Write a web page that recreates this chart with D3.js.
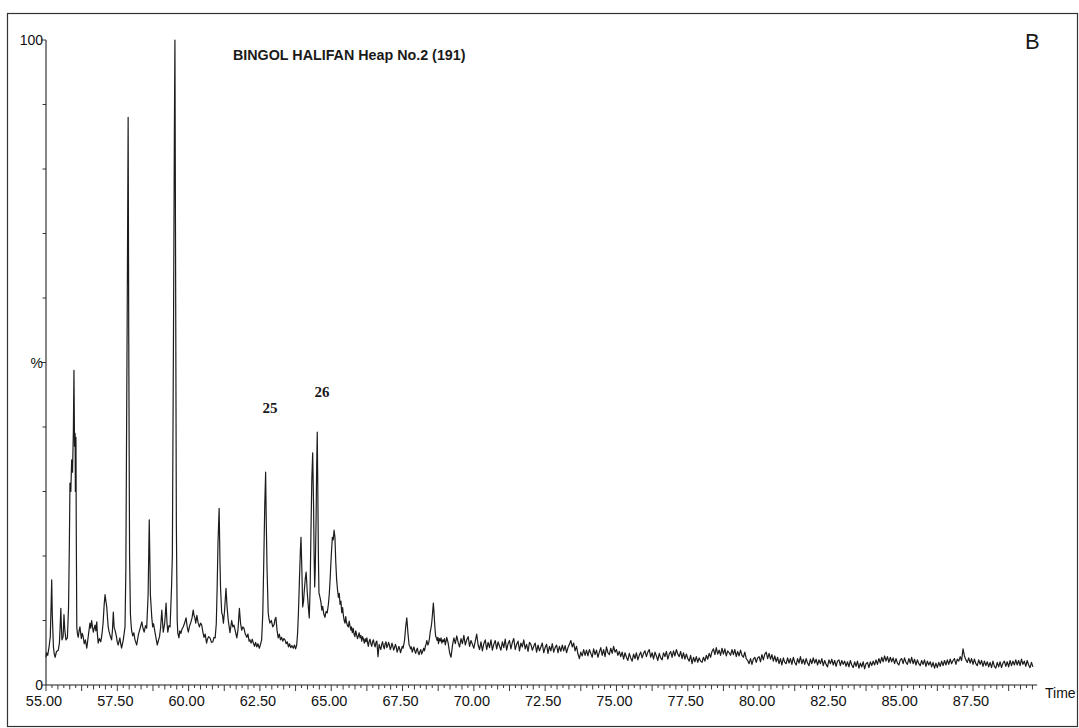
<!DOCTYPE html>
<html>
<head>
<meta charset="utf-8">
<script src="https://cdn.jsdelivr.net/npm/d3@7"></script>
<style>
  body { margin: 0; background: #fff; }
  svg { display: block; }
</style>
</head>
<body>
<svg id="chart" width="1079" height="728"></svg>
<script>
// ---- Chart text ----
const chartTitle = "BINGOL HALIFAN Heap No.2 (191)";
const panelLetter = "B";
const xAxisName = "Time";

// ---- Axis ticks ----
const xLabelValues = [55.0, 57.5, 60.0, 62.5, 65.0, 67.5, 70.0, 72.5, 75.0, 77.5, 80.0, 82.5, 85.0, 87.5];
const yLabelValues = [100, 50, 0];
const yLabelTexts = ["100", "%", "0"];
const yMinorTicks = [0, 10, 20, 30, 40, 50, 60, 70, 80, 90, 100];

// ---- Numbered peaks ----
const peakNames = ["25", "26"];
const peakNameTimes = [62.85, 64.68];
const peakNameLevels = [42.2, 44.7];

// ---- Ion trace, 55–69 min: [time (min), intensity (%)] ----
const traceEarly = [
  [55.00,4.3],[55.02,5.0],[55.06,4.6],[55.11,6.0],[55.15,7.5],[55.18,12.5],[55.20,16.3],[55.22,11.0],
  [55.26,5.9],[55.29,4.8],[55.32,4.3],[55.37,5.2],[55.43,5.4],[55.47,6.5],[55.50,9.5],[55.52,11.9],
  [55.54,9.0],[55.56,7.0],[55.60,7.5],[55.63,10.9],[55.66,8.5],[55.70,7.0],[55.75,7.3],[55.79,12.0],
  [55.82,22.0],[55.84,31.3],[55.87,30.0],[55.90,34.9],[55.93,33.0],[55.96,39.5],[55.98,48.8],[56.00,37.0],
  [56.02,39.0],[56.03,30.0],[56.05,38.4],[56.06,25.0],[56.08,9.0],[56.10,8.0],[56.13,7.4],[56.16,8.4],
  [56.19,9.0],[56.24,7.2],[56.27,8.0],[56.30,7.6],[56.34,6.4],[56.38,7.0],[56.43,5.7],[56.48,7.5],
  [56.54,9.6],[56.57,8.8],[56.60,10.0],[56.63,9.0],[56.66,8.2],[56.72,9.3],[56.75,8.4],[56.78,9.8],
  [56.80,8.0],[56.83,6.5],[56.87,7.2],[56.92,6.7],[56.96,7.8],[57.00,9.5],[57.04,12.5],[57.07,14.0],
  [57.10,13.0],[57.13,12.1],[57.18,9.0],[57.21,8.3],[57.24,7.8],[57.30,7.0],[57.33,8.5],[57.36,11.3],
  [57.39,8.9],[57.42,8.5],[57.47,7.5],[57.50,6.6],[57.53,6.2],[57.59,7.3],[57.62,6.4],[57.65,5.7],
  [57.71,7.0],[57.77,9.0],[57.80,18.0],[57.82,35.0],[57.85,60.0],[57.88,88.0],[57.90,55.0],[57.93,20.0],
  [57.96,11.0],[57.98,9.6],[58.00,8.5],[58.04,7.6],[58.08,8.1],[58.12,7.0],[58.18,6.2],[58.24,7.8],
  [58.30,8.8],[58.36,9.8],[58.40,8.8],[58.44,8.2],[58.49,9.2],[58.53,8.8],[58.58,14.0],[58.62,25.6],
  [58.66,14.0],[58.71,10.4],[58.74,9.0],[58.77,9.5],[58.82,8.2],[58.86,7.2],[58.90,6.2],[58.94,6.9],
  [58.98,7.5],[59.02,9.0],[59.06,11.6],[59.09,9.5],[59.11,8.2],[59.16,9.5],[59.21,12.7],[59.24,9.8],
  [59.27,8.2],[59.31,9.2],[59.35,9.0],[59.40,15.0],[59.43,20.0],[59.47,55.0],[59.50,85.0],[59.52,100.0],
  [59.54,70.0],[59.57,25.0],[59.60,10.0],[59.62,8.1],[59.66,7.3],[59.69,8.4],[59.73,8.0],[59.77,8.7],
  [59.81,9.0],[59.86,9.6],[59.91,10.4],[59.95,9.0],[59.99,8.2],[60.03,9.1],[60.07,9.6],[60.12,10.4],
  [60.16,11.6],[60.19,10.8],[60.22,10.4],[60.25,9.6],[60.29,10.8],[60.33,9.7],[60.38,9.0],[60.42,9.6],
  [60.46,9.3],[60.50,8.2],[60.54,7.4],[60.58,7.9],[60.63,6.5],[60.66,7.1],[60.70,7.5],[60.75,7.3],
  [60.80,6.6],[60.85,6.7],[60.89,7.4],[60.93,7.3],[60.97,9.5],[61.00,15.0],[61.03,22.0],[61.07,27.4],
  [61.10,19.0],[61.12,15.0],[61.16,11.2],[61.19,10.8],[61.22,9.6],[61.26,11.5],[61.31,15.0],[61.35,12.0],
  [61.39,10.0],[61.42,9.1],[61.45,8.1],[61.51,10.0],[61.55,9.0],[61.59,9.3],[61.63,8.5],[61.69,7.3],
  [61.73,8.5],[61.78,11.9],[61.82,9.6],[61.86,8.5],[61.90,9.0],[61.94,8.8],[61.98,8.0],[62.04,7.4],
  [62.08,7.9],[62.12,6.8],[62.15,7.0],[62.19,6.5],[62.23,7.1],[62.27,6.5],[62.31,6.0],[62.35,6.6],
  [62.39,5.9],[62.43,6.4],[62.48,5.7],[62.52,6.3],[62.56,7.0],[62.60,11.0],[62.63,18.0],[62.67,28.0],
  [62.70,33.0],[62.72,26.0],[62.75,18.0],[62.79,11.2],[62.82,10.2],[62.85,9.6],[62.90,10.0],[62.95,9.0],
  [63.00,9.4],[63.03,10.2],[63.06,10.5],[63.10,8.5],[63.14,7.3],[63.18,7.9],[63.22,7.0],[63.26,7.4],
  [63.30,6.8],[63.34,7.2],[63.38,7.0],[63.42,6.4],[63.46,6.7],[63.50,5.9],[63.54,6.4],[63.58,5.8],
  [63.62,6.1],[63.67,5.7],[63.71,6.2],[63.75,5.6],[63.79,6.2],[63.82,8.0],[63.85,11.2],[63.89,17.0],
  [63.92,21.0],[63.94,22.9],[63.97,18.0],[64.00,12.1],[64.03,13.0],[64.05,14.3],[64.09,16.5],[64.12,17.5],
  [64.14,16.0],[64.16,14.3],[64.20,12.0],[64.23,10.4],[64.26,15.0],[64.29,24.0],[64.32,32.0],[64.35,36.0],
  [64.38,28.0],[64.40,20.0],[64.42,15.2],[64.44,18.0],[64.47,26.0],[64.49,34.0],[64.51,39.2],[64.53,30.0],
  [64.55,20.0],[64.57,14.3],[64.61,13.5],[64.64,12.8],[64.67,11.6],[64.70,12.2],[64.74,11.0],[64.78,10.5],
  [64.82,11.4],[64.86,11.2],[64.90,12.5],[64.93,14.0],[64.96,16.3],[65.00,20.0],[65.04,22.9],[65.07,22.5],
  [65.10,24.0],[65.13,22.9],[65.16,19.0],[65.19,16.3],[65.22,14.8],[65.25,13.6],[65.28,14.2],[65.31,12.5],
  [65.34,13.0],[65.37,11.2],[65.40,12.0],[65.42,11.0],[65.45,10.1],[65.48,9.6],[65.51,10.6],[65.53,9.8],
  [65.57,9.2],[65.60,9.0],[65.63,9.9],[65.66,9.1],[65.69,8.5],[65.71,9.0],[65.74,8.1],[65.77,8.8],
  [65.80,7.9],[65.83,7.5],[65.86,8.4],[65.89,7.8],[65.92,7.2],[65.95,7.6],[65.98,8.1],[66.01,7.3],
  [66.04,7.7],[66.07,6.8],[66.10,7.5],[66.13,7.1],[66.16,6.5],[66.19,7.2],[66.22,6.7],[66.25,7.3],
  [66.28,6.4],[66.30,6.0],[66.33,6.8],[66.36,7.1],[66.39,6.4],[66.42,6.0],[66.45,6.7],[66.48,7.0],
  [66.51,6.3],[66.54,5.9],[66.57,6.6],[66.60,6.8],[66.62,5.6],[66.64,4.4],[66.66,5.4],[66.68,6.3],
  [66.71,5.8],[66.74,5.5],[66.77,6.3],[66.80,6.7],[66.83,6.0],[66.86,5.6],[66.89,6.4],[66.92,6.7],
  [66.95,5.8],[66.98,6.1],[67.01,6.6],[67.04,6.2],[67.07,5.5],[67.10,5.9],[67.13,6.5],[67.16,6.0],
  [67.19,5.4],[67.22,5.8],[67.25,6.3],[67.28,5.9],[67.31,5.1],[67.34,5.5],[67.37,6.0],[67.40,5.6],
  [67.43,5.0],[67.46,5.5],[67.49,6.0],[67.52,5.7],[67.55,6.4],[67.57,6.9],[67.61,9.0],[67.65,10.4],
  [67.69,8.0],[67.73,6.2],[67.76,6.0],[67.78,5.6],[67.81,5.9],[67.84,5.1],[67.87,5.5],[67.90,5.9],
  [67.93,5.3],[67.96,4.9],[67.99,5.4],[68.02,5.7],[68.05,5.0],[68.08,4.7],[68.11,5.2],[68.14,5.5],
  [68.17,4.8],[68.20,5.1],[68.24,5.7],[68.27,5.3],[68.30,6.0],[68.33,6.4],[68.35,6.9],[68.39,6.2],
  [68.42,6.6],[68.45,7.4],[68.47,8.2],[68.50,8.9],[68.52,9.5],[68.55,11.0],[68.58,12.7],[68.60,11.5],
  [68.62,10.0],[68.64,8.6],[68.66,7.6],[68.69,7.3],[68.71,6.9],[68.74,7.4],[68.76,6.4],[68.79,7.2],
  [68.82,6.8],[68.85,7.3],[68.88,6.5],[68.91,7.0],[68.94,6.7],[68.97,7.2]
];

// ---- Ion trace, 69.00 min onward, one reading per 0.05 min (intensity %) ----
const tailStartTime = 69.0;
const tailStepTime = 0.05;
const traceTail = [
  6.2,7.4,6.5,5.0,4.3,6.1,7.3,6.4,7.6,6.6,5.9,7.2,6.4,7.7,6.2,7.0,7.5,6.0,6.9,6.3,
  5.7,6.8,7.9,6.2,5.5,6.7,5.3,6.4,7.0,5.5,6.6,5.8,7.0,5.4,6.3,6.9,5.6,6.7,6.0,5.4,
  6.7,5.8,7.1,5.4,6.4,6.9,5.6,6.6,7.2,5.5,6.3,6.8,5.3,6.5,5.9,7.0,5.6,6.3,5.2,6.6,
  6.3,5.4,6.0,6.5,5.1,6.2,5.3,5.9,6.5,5.0,5.8,6.3,4.9,6.0,5.3,6.4,5.1,5.8,6.2,5.0,
  6.0,5.2,6.2,5.3,6.1,5.0,5.8,6.3,6.9,5.9,6.5,5.3,6.0,4.8,4.1,5.1,4.5,5.5,4.6,5.4,
  4.5,5.5,4.9,4.3,5.6,4.7,5.4,4.3,5.1,5.8,4.6,5.5,4.4,5.9,5.0,4.7,5.7,4.9,6.0,5.1,
  5.5,4.6,5.2,4.4,5.1,4.0,5.0,4.3,3.8,4.9,4.2,3.7,4.8,4.1,5.0,3.9,4.6,5.1,4.2,4.9,
  5.3,4.4,5.1,5.5,4.3,5.0,4.0,5.1,4.5,3.8,4.9,4.2,3.9,5.0,4.4,5.2,4.0,4.8,5.2,4.3,
  5.3,4.5,5.5,4.8,4.4,5.2,4.1,5.0,4.0,4.8,4.1,3.7,4.6,3.3,4.3,3.6,4.4,3.5,4.2,3.7,
  3.5,4.3,3.7,4.6,4.0,4.9,4.3,5.2,5.6,4.7,5.8,4.8,5.4,4.6,5.7,4.8,5.6,4.5,5.3,5.0,
  4.6,5.5,4.7,5.5,4.4,5.2,4.5,5.4,4.6,4.3,5.1,4.1,3.8,3.3,4.1,3.2,4.0,4.3,3.5,4.2,
  4.4,3.6,4.7,3.9,4.8,5.1,4.1,4.9,4.0,4.7,3.7,4.5,3.6,4.3,3.3,4.1,3.1,4.2,3.5,3.3,
  4.2,3.4,4.1,3.2,4.3,3.5,3.1,4.1,3.4,4.4,3.3,4.0,3.2,4.1,3.4,3.0,4.0,3.3,4.2,3.4,
  4.0,3.1,3.9,3.3,4.1,3.0,3.8,3.2,2.8,3.9,3.3,4.0,3.1,3.8,2.9,3.7,3.9,3.0,3.8,3.2,
  3.7,2.9,3.6,2.8,3.8,3.1,2.7,3.6,2.9,3.7,2.6,3.4,2.8,3.6,2.5,3.3,3.5,2.7,3.6,3.0,
  3.7,3.1,3.9,3.2,4.1,3.4,4.3,3.6,4.5,3.7,4.4,3.5,4.3,3.6,4.2,3.3,4.1,3.4,3.1,3.9,
  4.1,3.3,4.2,3.5,3.2,4.1,3.4,4.3,3.3,4.0,3.1,3.9,3.3,3.0,3.8,3.2,3.9,2.9,3.7,3.1,
  3.6,2.8,3.5,2.6,3.4,2.7,3.5,2.9,3.7,3.0,3.8,3.1,3.9,3.2,4.0,3.3,3.8,4.1,3.2,4.0,
  3.7,4.4,3.8,5.6,4.5,3.9,3.5,4.2,3.4,4.1,3.2,4.0,3.3,3.0,3.9,3.2,3.8,2.9,3.7,3.0,
  3.6,2.8,3.5,2.7,3.7,2.9,2.6,3.5,2.8,3.6,2.7,3.4,3.7,2.9,3.6,2.8,3.8,3.0,3.7,3.1,
  3.9,3.1,3.8,3.0,4.0,3.2,3.7,2.9,3.8,3.1,2.7,3.5,2.8
];

// ---- Drawing ----
const W = 1079, H = 728;
const svg = d3.select("#chart");
const ink = "#222";

const x = d3.scaleLinear().domain([55, 87.5]).range([46, 973]);
const xEnd = 89.75;
const y = d3.scaleLinear().domain([0, 100]).range([685, 40]);

// outer frame
svg.append("rect")
  .attr("x", 7.5).attr("y", 13.5)
  .attr("width", W - 9).attr("height", H - 15)
  .attr("fill", "none").attr("stroke", "#333").attr("stroke-width", 1.2);

const sans = "'Liberation Sans', Arial, sans-serif";

// x axis: fine ticks, every-other larger, labels every 2.5 min
const fineStep = 2.5 / 12;
const fineTicks = d3.range(0, Math.floor((xEnd - 55) / fineStep) + 1).map(i => 55 + i * fineStep);
const xAxisG = svg.append("g").attr("transform", `translate(0,${y(0)})`);
xAxisG.append("line")
  .attr("x1", x(55)).attr("x2", x(xEnd))
  .attr("y1", 0).attr("y2", 0)
  .attr("stroke", ink).attr("stroke-width", 1.1);
xAxisG.selectAll("line.tick")
  .data(fineTicks)
  .join("line")
  .attr("class", "tick")
  .attr("x1", d => x(d)).attr("x2", d => x(d))
  .attr("y1", 0)
  .attr("y2", (d, i) => i % 6 === 0 ? 6 : (i % 2 === 0 ? 4.5 : 3))
  .attr("stroke", ink).attr("stroke-width", 0.9);
xAxisG.selectAll("text.lab")
  .data(xLabelValues)
  .join("text")
  .attr("class", "lab")
  .attr("x", d => x(d) - 2)
  .attr("y", 21)
  .attr("text-anchor", "middle")
  .attr("font-family", sans)
  .attr("font-size", 14.5)
  .attr("fill", "#111")
  .text(d3.format(".2f"));
xAxisG.append("text")
  .attr("x", 1045).attr("y", 13)
  .attr("font-family", sans).attr("font-size", 14)
  .attr("fill", "#111")
  .text(xAxisName);

// y axis
const yAxisG = svg.append("g");
yAxisG.append("line")
  .attr("x1", x(55)).attr("x2", x(55))
  .attr("y1", y(100)).attr("y2", y(0))
  .attr("stroke", ink).attr("stroke-width", 1.1);
yAxisG.selectAll("line.tick")
  .data(yMinorTicks)
  .join("line")
  .attr("class", "tick")
  .attr("x1", d => x(55) - ((d === 0 || d === 100 || d === 50) ? 5 : 3.5))
  .attr("x2", x(55))
  .attr("y1", d => y(d)).attr("y2", d => y(d))
  .attr("stroke", ink).attr("stroke-width", 0.9);
yAxisG.selectAll("text.lab")
  .data(yLabelValues)
  .join("text")
  .attr("class", "lab")
  .attr("x", x(55) - 3)
  .attr("y", d => y(d))
  .attr("dy", "0.36em")
  .attr("text-anchor", "end")
  .attr("font-family", sans)
  .attr("font-size", 14)
  .attr("fill", "#111")
  .text((d, i) => yLabelTexts[i]);

// trace
const tracePoints = traceEarly.concat(traceTail.map((v, i) => [tailStartTime + i * tailStepTime, v]));
svg.append("path")
  .datum(tracePoints)
  .attr("fill", "none")
  .attr("stroke", "#1c1c1c")
  .attr("stroke-width", 1.2)
  .attr("stroke-linejoin", "round")
  .attr("d", d3.line().x(d => x(d[0])).y(d => y(d[1])));

// peak numbers
svg.selectAll("text.peak")
  .data(peakNames)
  .join("text")
  .attr("class", "peak")
  .attr("x", (d, i) => x(peakNameTimes[i]))
  .attr("y", (d, i) => y(peakNameLevels[i]))
  .attr("text-anchor", "middle")
  .attr("font-family", "'Liberation Serif', 'Times New Roman', serif")
  .attr("font-weight", "bold")
  .attr("font-size", 15)
  .attr("fill", "#1a1a1a")
  .text(d => d);

// title and panel letter
svg.append("text")
  .attr("x", 233).attr("y", 60)
  .attr("font-family", sans).attr("font-weight", "bold")
  .attr("font-size", 14.3)
  .attr("fill", "#1a1a1a")
  .text(chartTitle);
svg.append("text")
  .attr("x", 1025).attr("y", 49)
  .attr("font-family", sans)
  .attr("font-size", 22)
  .attr("fill", "#1a1a1a")
  .text(panelLetter);
</script>
</body>
</html>
